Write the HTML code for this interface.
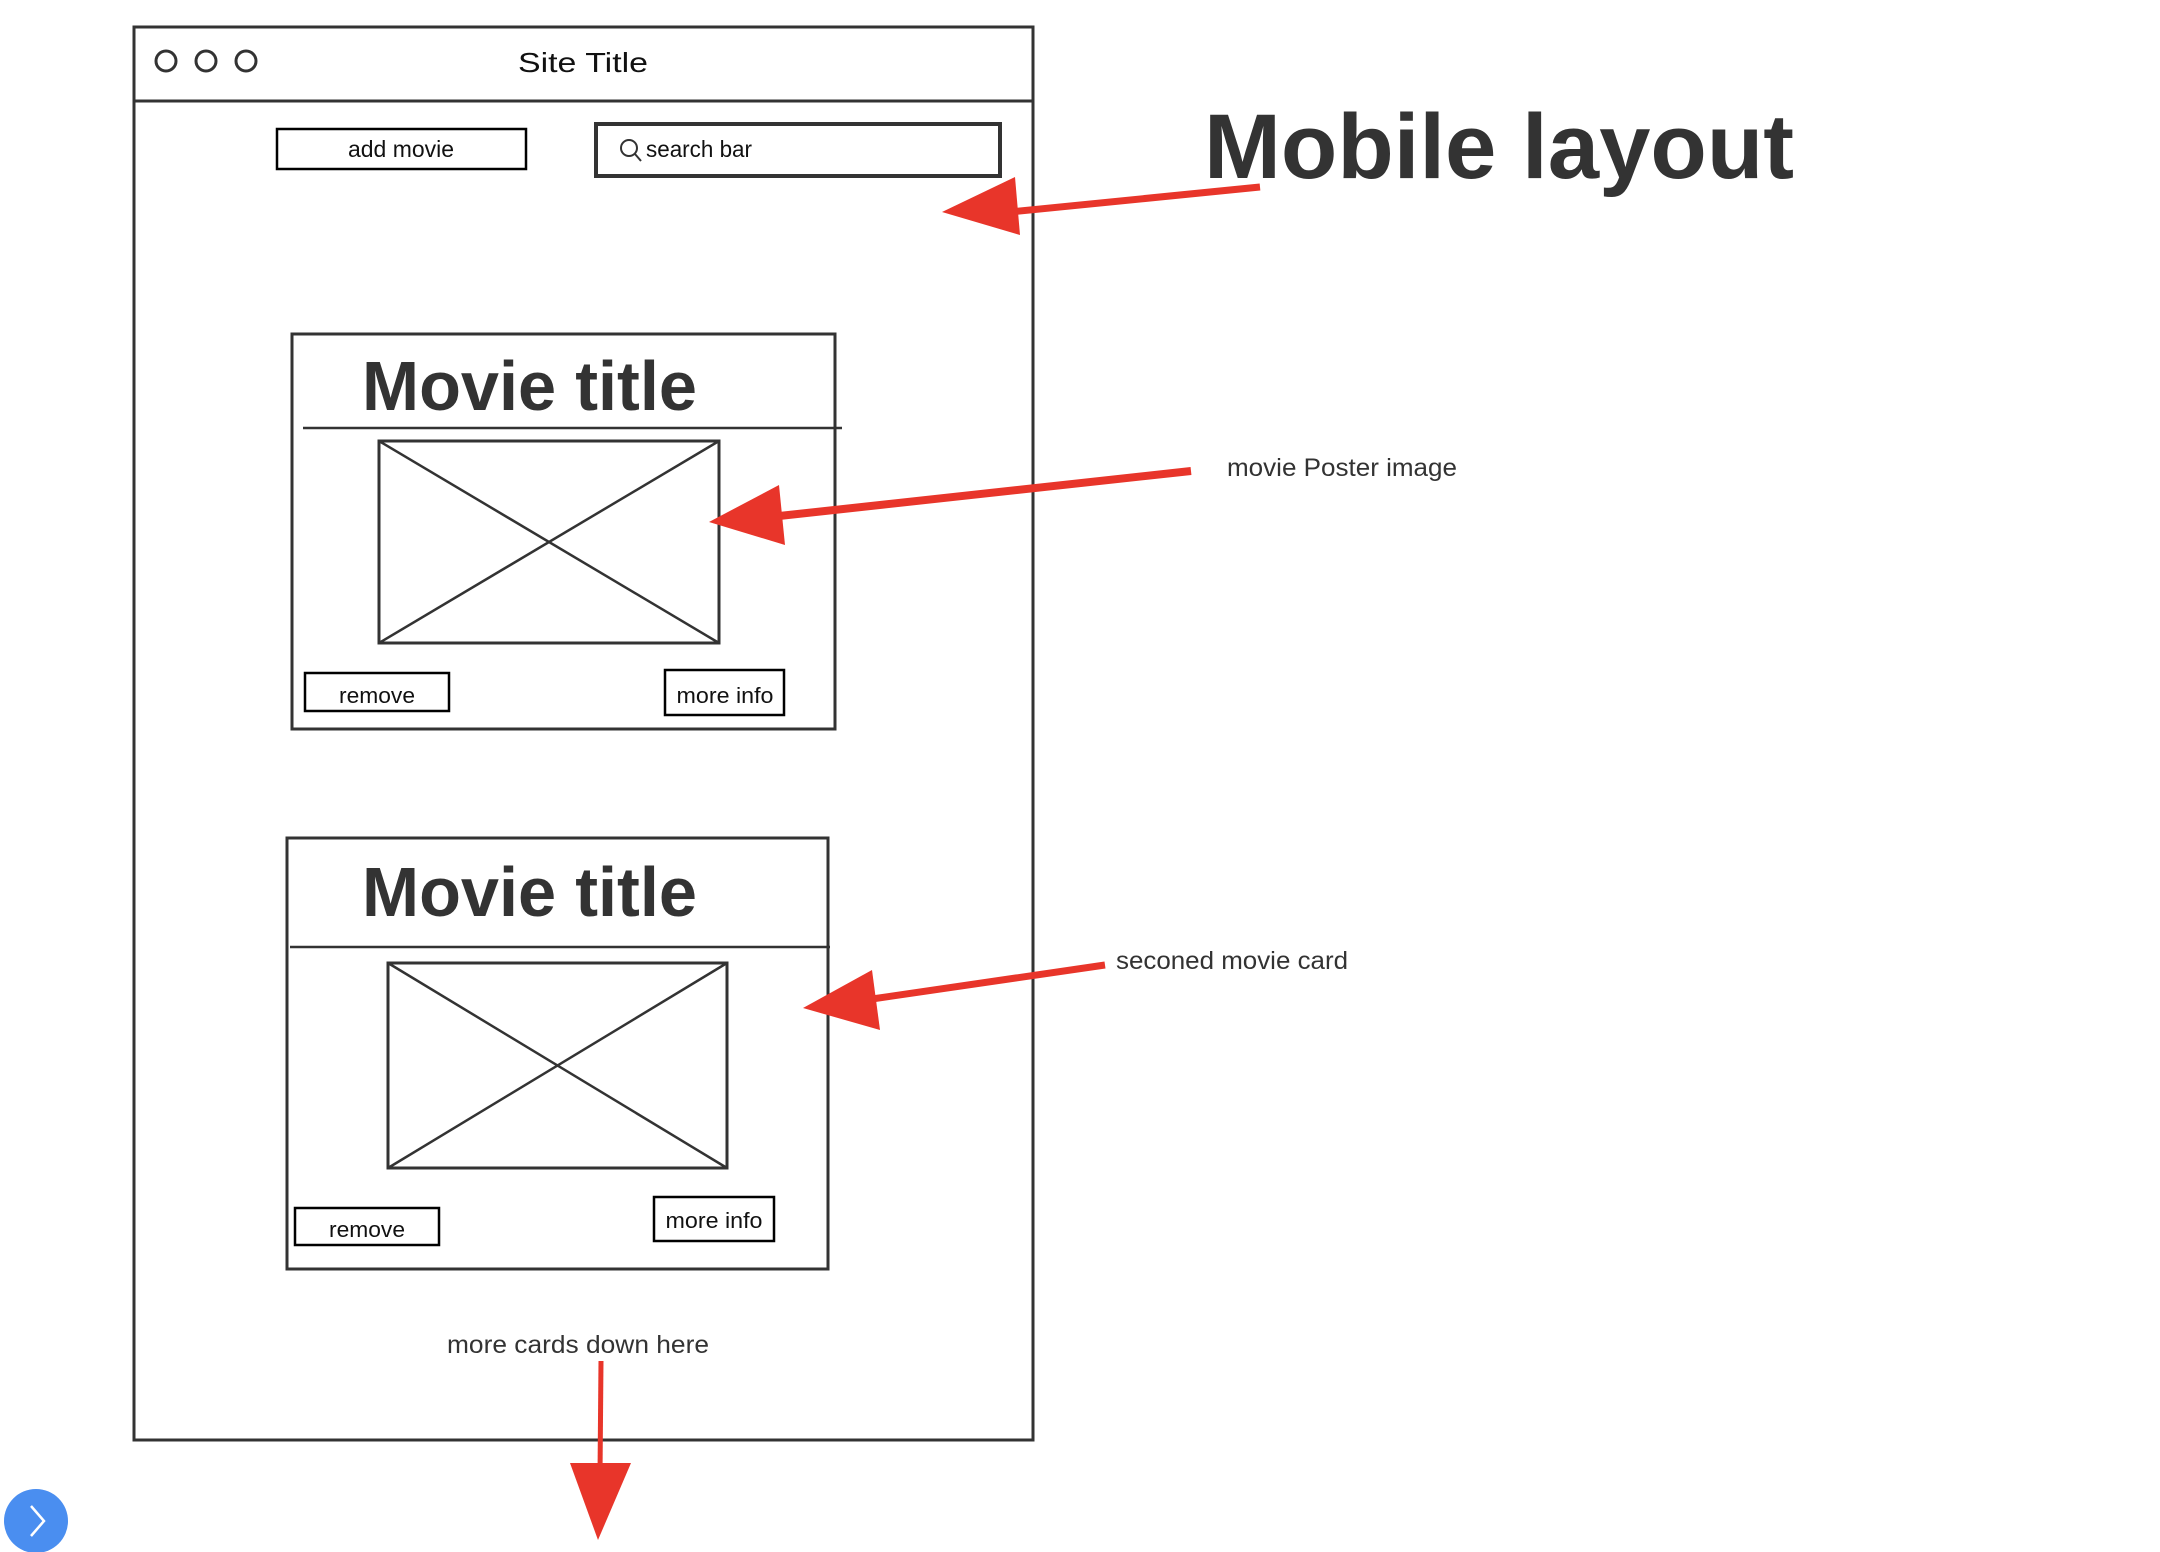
<!DOCTYPE html>
<html><head><meta charset="utf-8"><style>
html,body{margin:0;padding:0;background:#fff;width:2160px;height:1552px;overflow:hidden}
svg{display:block}
text{font-family:"Liberation Sans",sans-serif}
</style></head><body>
<svg width="2160" height="1552" viewBox="0 0 2160 1552" xmlns="http://www.w3.org/2000/svg">
<g fill="none" stroke="#333" stroke-width="3">
<rect x="134" y="27" width="899" height="1413"/>
<line x1="134" y1="101" x2="1033" y2="101"/>
<circle cx="166" cy="61" r="10"/><circle cx="206" cy="61" r="10"/><circle cx="246" cy="61" r="10"/>
<rect x="277" y="129" width="249" height="40" stroke="#000" stroke-width="2.5"/>
<rect x="596" y="124" width="404" height="52" stroke-width="4"/>
<circle cx="629" cy="148" r="8" stroke-width="2"/><line x1="635" y1="154" x2="641" y2="161" stroke-width="2"/>
<rect x="292" y="334" width="543" height="395"/>
<line x1="303" y1="428" x2="842" y2="428" stroke-width="2.5"/>
<rect x="379" y="441" width="340" height="202"/>
<line x1="379" y1="441" x2="719" y2="643" stroke-width="2.5"/><line x1="719" y1="441" x2="379" y2="643" stroke-width="2.5"/>
<rect x="305" y="673" width="144" height="38" stroke="#000" stroke-width="2.5"/>
<rect x="665" y="670" width="119" height="45" stroke="#000" stroke-width="2.5"/>
<rect x="287" y="838" width="541" height="431"/>
<line x1="290" y1="947" x2="830" y2="947" stroke-width="2.5"/>
<rect x="388" y="963" width="339" height="205"/>
<line x1="388" y1="963" x2="727" y2="1168" stroke-width="2.5"/><line x1="727" y1="963" x2="388" y2="1168" stroke-width="2.5"/>
<rect x="295" y="1208" width="144" height="37" stroke="#000" stroke-width="2.5"/>
<rect x="654" y="1197" width="120" height="44" stroke="#000" stroke-width="2.5"/>
</g>
<g fill="#111">
<text x="583" y="72" font-size="28" text-anchor="middle" textLength="130" lengthAdjust="spacingAndGlyphs">Site Title</text>
<text x="401" y="157" font-size="23" text-anchor="middle" textLength="106" lengthAdjust="spacingAndGlyphs">add movie</text>
<text x="646" y="157" font-size="23" textLength="106" lengthAdjust="spacingAndGlyphs">search bar</text>
<text x="377" y="703" font-size="22" text-anchor="middle" textLength="76" lengthAdjust="spacingAndGlyphs">remove</text>
<text x="725" y="703" font-size="22" text-anchor="middle" textLength="97" lengthAdjust="spacingAndGlyphs">more info</text>
<text x="367" y="1237" font-size="22" text-anchor="middle" textLength="76" lengthAdjust="spacingAndGlyphs">remove</text>
<text x="714" y="1228" font-size="22" text-anchor="middle" textLength="97" lengthAdjust="spacingAndGlyphs">more info</text>
</g>
<g fill="#333" font-weight="bold">
<text x="1204" y="178" font-size="92" textLength="590" lengthAdjust="spacingAndGlyphs">Mobile layout</text>
<text x="362" y="410" font-size="70" textLength="335" lengthAdjust="spacingAndGlyphs">Movie title</text>
<text x="362" y="916" font-size="70" textLength="335" lengthAdjust="spacingAndGlyphs">Movie title</text>
</g>
<g fill="#333">
<text x="1227" y="476" font-size="25" textLength="230" lengthAdjust="spacingAndGlyphs">movie Poster image</text>
<text x="1116" y="969" font-size="25" textLength="232" lengthAdjust="spacingAndGlyphs">seconed movie card</text>
<text x="578" y="1353" font-size="25" text-anchor="middle" textLength="262" lengthAdjust="spacingAndGlyphs">more cards down here</text>
</g>
<g fill="#e8352a" stroke="#e8352a">
<line x1="1260" y1="187" x2="1000" y2="213" stroke-width="7"/>
<polygon points="942,212 1015,177 1020,235" stroke="none"/>
<line x1="1191" y1="471" x2="770" y2="517" stroke-width="8"/>
<polygon points="709,522 779,485 785,545" stroke="none"/>
<line x1="1105" y1="965" x2="865" y2="1000" stroke-width="7"/>
<polygon points="803,1008 872,970 880,1030" stroke="none"/>
<line x1="601" y1="1361" x2="600" y2="1475" stroke-width="5"/>
<polygon points="598,1540 570,1463 631,1463" stroke="none"/>
</g>
<circle cx="36" cy="1521" r="32" fill="#4a8ef0"/>
<polyline points="31,1506 44,1521 31,1536" fill="none" stroke="#fff" stroke-width="2.5"/>
</svg>
</body></html>
